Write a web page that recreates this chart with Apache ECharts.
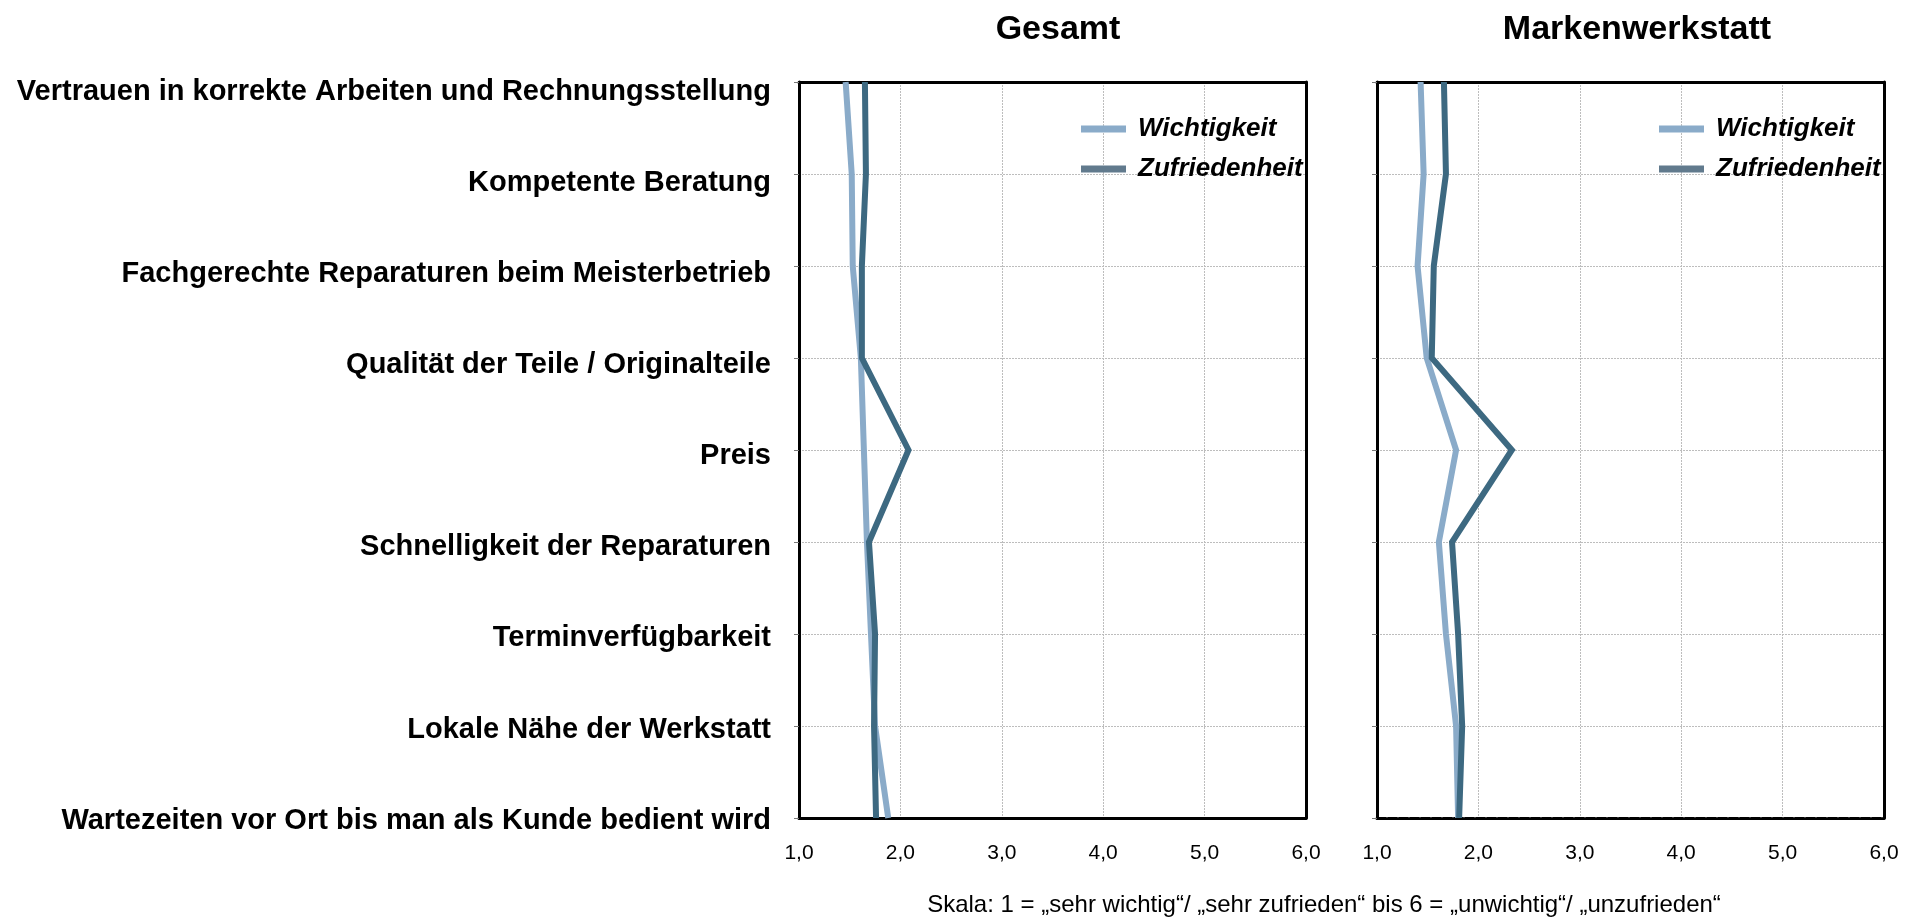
<!DOCTYPE html>
<html>
<head>
<meta charset="utf-8">
<script src="https://cdn.jsdelivr.net/npm/echarts@6/dist/echarts.min.js"></script>
<style>
html,body{margin:0;padding:0;background:#fff;}
#chart{width:1918px;height:917px;}
</style>
</head>
<body>
<div id="chart"></div>
<script>
const categories = [
  'Vertrauen in korrekte Arbeiten und Rechnungsstellung',
  'Kompetente Beratung',
  'Fachgerechte Reparaturen beim Meisterbetrieb',
  'Qualität der Teile / Originalteile',
  'Preis',
  'Schnelligkeit der Reparaturen',
  'Terminverfügbarkeit',
  'Lokale Nähe der Werkstatt',
  'Wartezeiten vor Ort bis man als Kunde bedient wird'
];
const xTickLabels = ['1,0', '2,0', '3,0', '4,0', '5,0', '6,0'];
const panelTitles = ['Gesamt', 'Markenwerkstatt'];
const seriesNames = ['Wichtigkeit', 'Zufriedenheit'];
const gesamtWichtigkeit = [1.46, 1.52, 1.53, 1.61, 1.64, 1.67, 1.71, 1.75, 1.88];
const gesamtZufriedenheit = [1.65, 1.66, 1.62, 1.62, 2.08, 1.69, 1.75, 1.74, 1.76];
const markenWichtigkeit = [1.43, 1.46, 1.40, 1.49, 1.78, 1.61, 1.68, 1.78, 1.80];
const markenZufriedenheit = [1.66, 1.68, 1.56, 1.54, 2.33, 1.74, 1.80, 1.84, 1.81];
const scaleNote = 'Skala: 1 = \u201Esehr wichtig\u201C/ \u201Esehr zufrieden\u201C bis 6 = \u201Eunwichtig\u201C/ \u201Eunzufrieden\u201C';

const FONT = '"Liberation Sans", Arial, sans-serif';
const LIGHT = '#8aabc9';
const DARK = '#3d6981';
const DARK_LEGEND = '#617a8d';

const grids = [
  {left: 799, width: 507, top: 82, height: 736},
  {left: 1377, width: 507, top: 82, height: 736}
];

// category labels sit slightly below their grid lines (styling only)
const labelRich = {};
categories.forEach((c, i) => {
  const d = Math.max(0, Math.round(9.8 - 0.9 * i));
  labelRich['o' + i] = {
    fontFamily: FONT, fontSize: 29, fontWeight: 'bold', color: '#000',
    padding: [2 * d, 0, 0, 0]
  };
});

const xAxes = [];
const yAxes = [];
grids.forEach((g, i) => {
  xAxes.push({
    gridIndex: i, type: 'value', position: 'bottom', min: 1, max: 6, interval: 1,
    axisLine: {show: true, onZero: false, lineStyle: {color: '#000', width: 3, type: i === 1 ? [9, 2] : 'solid'}},
    axisTick: {show: false},
    axisLabel: {
      margin: 25, color: '#000', fontFamily: FONT, fontSize: 21,
      formatter: v => xTickLabels[Math.round(v) - 1]
    },
    splitLine: {show: true, lineStyle: {color: '#bdbdbd', width: 1, type: [2, 1]}}
  });
  xAxes.push({
    gridIndex: i, type: 'value', position: 'top', min: 1, max: 6, interval: 1,
    axisLine: {show: true, onZero: false, lineStyle: {color: '#000', width: 3}},
    axisTick: {show: false}, axisLabel: {show: false}, splitLine: {show: false}
  });
  yAxes.push({
    gridIndex: i, type: 'category', position: 'left', data: categories, inverse: true, boundaryGap: false,
    axisLine: {show: true, onZero: false, lineStyle: {color: '#000', width: 3}},
    axisTick: {show: true, inside: false, length: 5, lineStyle: {color: '#777', width: 1}},
    axisLabel: {
      show: i === 0, margin: 28, color: '#000', fontFamily: FONT, fontSize: 29, fontWeight: 'bold',
      formatter: (v, idx) => '{o' + idx + '|' + v + '}',
      rich: labelRich
    },
    splitLine: {show: true, lineStyle: {color: '#bdbdbd', width: 1, type: [2, 1]}}
  });
  yAxes.push({
    gridIndex: i, type: 'category', position: 'right', data: categories, inverse: true, boundaryGap: false,
    axisLine: {show: true, onZero: false, lineStyle: {color: '#000', width: 3}},
    axisTick: {show: false}, axisLabel: {show: false}, splitLine: {show: false}
  });
});

const panelData = [
  [gesamtWichtigkeit, gesamtZufriedenheit],
  [markenWichtigkeit, markenZufriedenheit]
];
const series = [];
panelData.forEach((pair, i) => {
  pair.forEach((vals, j) => {
    series.push({
      name: seriesNames[j], type: 'line', xAxisIndex: i * 2, yAxisIndex: i * 2,
      data: vals, symbol: 'none', smooth: false, z: 3 + j,
      lineStyle: {color: j === 0 ? LIGHT : DARK, width: 6, cap: 'butt', join: 'miter'},
      itemStyle: {color: j === 0 ? LIGHT : DARK}
    });
  });
});

const legendBase = (left) => ({
  orient: 'vertical', left: left, top: 111, itemGap: 14,
  icon: 'rect', itemWidth: 45, itemHeight: 7, selectedMode: false,
  textStyle: {fontFamily: FONT, fontSize: 26, fontWeight: 'bold', fontStyle: 'italic', color: '#000', padding: [0, 0, 0, 7]},
  data: [
    {name: seriesNames[0], itemStyle: {color: LIGHT}},
    {name: seriesNames[1], itemStyle: {color: DARK_LEGEND}}
  ]
});

const option = {
  backgroundColor: '#fff',
  animation: false,
  title: [
    {text: panelTitles[0], left: 1053, top: 8, textAlign: 'center',
     textStyle: {fontFamily: FONT, fontSize: 34, fontWeight: 'bold', color: '#000'}},
    {text: panelTitles[1], left: 1632, top: 8, textAlign: 'center',
     textStyle: {fontFamily: FONT, fontSize: 34, fontWeight: 'bold', color: '#000'}},
    {text: scaleNote, left: 1319, top: 888, textAlign: 'center',
     textStyle: {fontFamily: FONT, fontSize: 24, fontWeight: 'normal', color: '#000'}}
  ],
  legend: [legendBase(1076), legendBase(1654)],
  grid: grids.map(g => Object.assign({containLabel: false, outerBoundsMode: 'none'}, g)),
  xAxis: xAxes,
  yAxis: yAxes,
  series: series
};

const chart = echarts.init(document.getElementById('chart'), null, {renderer: 'canvas'});
chart.setOption(option);
</script>
</body>
</html>
